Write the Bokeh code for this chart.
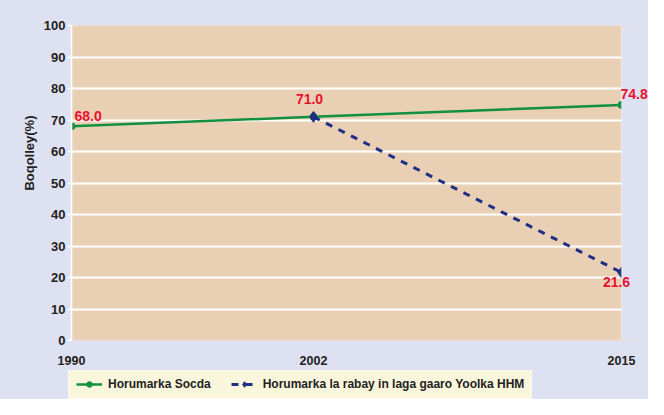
from bokeh.plotting import figure
from bokeh.layouts import column
from bokeh.models import Range1d, Legend, LegendItem, Label, FixedTicker, BoxAnnotation, Title
from bokeh.embed import file_html
from bokeh.resources import INLINE

# ---- data ----
years = ["1990", "2002", "2015"]
actual = [68.0, 71.0, 74.8]               # Horumarka Socda
target_years = ["2002", "2015"]
target = [71.0, 21.6]                      # Horumarka la rabay ...
y_ticks = [0, 10, 20, 30, 40, 50, 60, 70, 80, 90, 100]
series_names = ["Horumarka Socda", "Horumarka la rabay in laga gaaro Yoolka HHM"]
y_title = "Boqolley(%)"

# uneven placement of the year slots along the axis (as in the original)
slot = {"1990": 0, "2002": 11, "2015": 25}
X_END = 25
FRAME_W = 577          # frame reaches canvas right edge so labels are not clipped
PLOT_W = 550           # width of the peach plot area
x_max = X_END * FRAME_W / PLOT_W

FONT = "Liberation Sans"
LAV = "#dee1f1"
PEACH = "#e9d0b5"
GREEN = "#12903f"
NAVY = "#1f2d84"
RED = "#e8112d"
TXT = "#222222"

p = figure(frame_width=FRAME_W, frame_height=315,
           x_range=Range1d(0, x_max), y_range=Range1d(0, 100),
           output_backend="svg", toolbar_location=None,
           min_border_left=71, min_border_right=0,
           min_border_top=25, min_border_bottom=30,
           background_fill_color=PEACH, border_fill_color=LAV)
p.outline_line_color = None

# x axis
xs = [slot[y] for y in years]
p.xaxis.ticker = FixedTicker(ticks=xs)
p.xaxis.major_label_overrides = {slot[y]: y for y in years}
p.xaxis.axis_line_color = None
p.xaxis.major_tick_line_color = None
p.xaxis.minor_tick_line_color = None
p.xaxis.major_label_standoff = 9
p.xaxis.major_label_text_font = FONT
p.xaxis.major_label_text_font_style = "bold"
p.xaxis.major_label_text_font_size = "12.5px"
p.xaxis.major_label_text_color = TXT
p.xgrid.visible = False

# y axis
p.yaxis.ticker = FixedTicker(ticks=y_ticks)
p.yaxis.axis_line_color = "white"
p.yaxis.axis_line_width = 1.5
p.yaxis.major_tick_line_color = "white"
p.yaxis.major_tick_line_width = 1.5
p.yaxis.major_tick_out = 4
p.yaxis.major_tick_in = 0
p.yaxis.minor_tick_line_color = None
p.yaxis.major_label_standoff = 2
p.yaxis.major_label_text_font = FONT
p.yaxis.major_label_text_font_style = "bold"
p.yaxis.major_label_text_font_size = "13px"
p.yaxis.major_label_text_color = TXT
p.ygrid.ticker = FixedTicker(ticks=y_ticks)
p.ygrid.grid_line_color = "white"
p.ygrid.grid_line_width = 2

# area right of the plot box back to the page colour, plus white border
p.add_layout(BoxAnnotation(left=X_END, right=x_max + 5, bottom=-10, top=110,
                           fill_color=LAV, fill_alpha=1, line_color=None, level="glyph"))
p.add_layout(BoxAnnotation(left=0, right=X_END, bottom=0, top=100,
                           fill_alpha=0, line_color="white", line_width=1.5, level="glyph"))

# series
gl = p.line(xs, actual, line_color=GREEN, line_width=2.5)
gp = p.scatter(xs, actual, marker="circle", size=7, fill_color=GREEN, line_color=GREEN)
txs = [slot[y] for y in target_years]
bl = p.line(txs, target, line_color=NAVY, line_width=3, line_dash="7 7")
bp = p.scatter(txs, target, marker="diamond", size=11, fill_color=NAVY, line_color=NAVY)

# value labels
def vlabel(x, y, txt, align, xo, yo):
    p.add_layout(Label(x=x, y=y, text=txt, text_align=align, text_baseline="middle",
                       x_offset=xo, y_offset=yo, text_font=FONT, text_font_style="bold",
                       text_font_size="14px", text_color=RED))

vlabel(xs[0], actual[0], f"{actual[0]:.1f}", "left", 3, 10)
vlabel(xs[1], actual[1], f"{actual[1]:.1f}", "center", -4, 18)
vlabel(xs[2], actual[2], f"{actual[2]:.1f}", "left", -1, 11)
vlabel(txs[1], target[1], f"{target[1]:.1f}", "center", -5, -10)

# y title (left panel, shifted upward as in the original)
p.add_layout(Title(text=y_title, align="right", offset=90, standoff=8,
                   text_font=FONT, text_font_style="bold", text_font_size="13px",
                   text_color=TXT), "left")

# ---- legend strip below the chart ----
lg = figure(frame_width=71 + FRAME_W, frame_height=29,
            x_range=Range1d(0, 1), y_range=Range1d(0, 1),
            x_axis_type=None, y_axis_type=None,
            output_backend="svg", toolbar_location=None,
            min_border_left=0, min_border_right=0, min_border_top=0, min_border_bottom=0,
            background_fill_color=LAV, border_fill_color=LAV)
lg.outline_line_color = None
k_gl = lg.line([-5, -4], [-5, -4], line_color=GREEN, line_width=2.5)
k_gp = lg.scatter([-5], [-5], marker="circle", size=7, fill_color=GREEN, line_color=GREEN)
k_bl = lg.line([-5, -4], [-5, -4], line_color=NAVY, line_width=3, line_dash="7 7")
k_bp = lg.scatter([-5], [-5], marker="diamond", size=11, fill_color=NAVY, line_color=NAVY)
legend = Legend(items=[LegendItem(label=series_names[0], renderers=[k_gl, k_gp]),
                       LegendItem(label=series_names[1], renderers=[k_bl, k_bp])],
                location=(68, 0), orientation="horizontal",
                background_fill_color="#faf6dc", background_fill_alpha=1,
                border_line_color="white", border_line_width=1.5,
                padding=7, margin=0, spacing=20, label_standoff=6,
                glyph_width=26, glyph_height=14, label_height=14,
                label_text_font=FONT, label_text_font_style="bold",
                label_text_font_size="12px", label_text_color=TXT)
lg.add_layout(legend, "center")

layout = column(p, lg, spacing=0, styles={"background-color": LAV})
open("out.html", "w").write(file_html(layout, INLINE))
